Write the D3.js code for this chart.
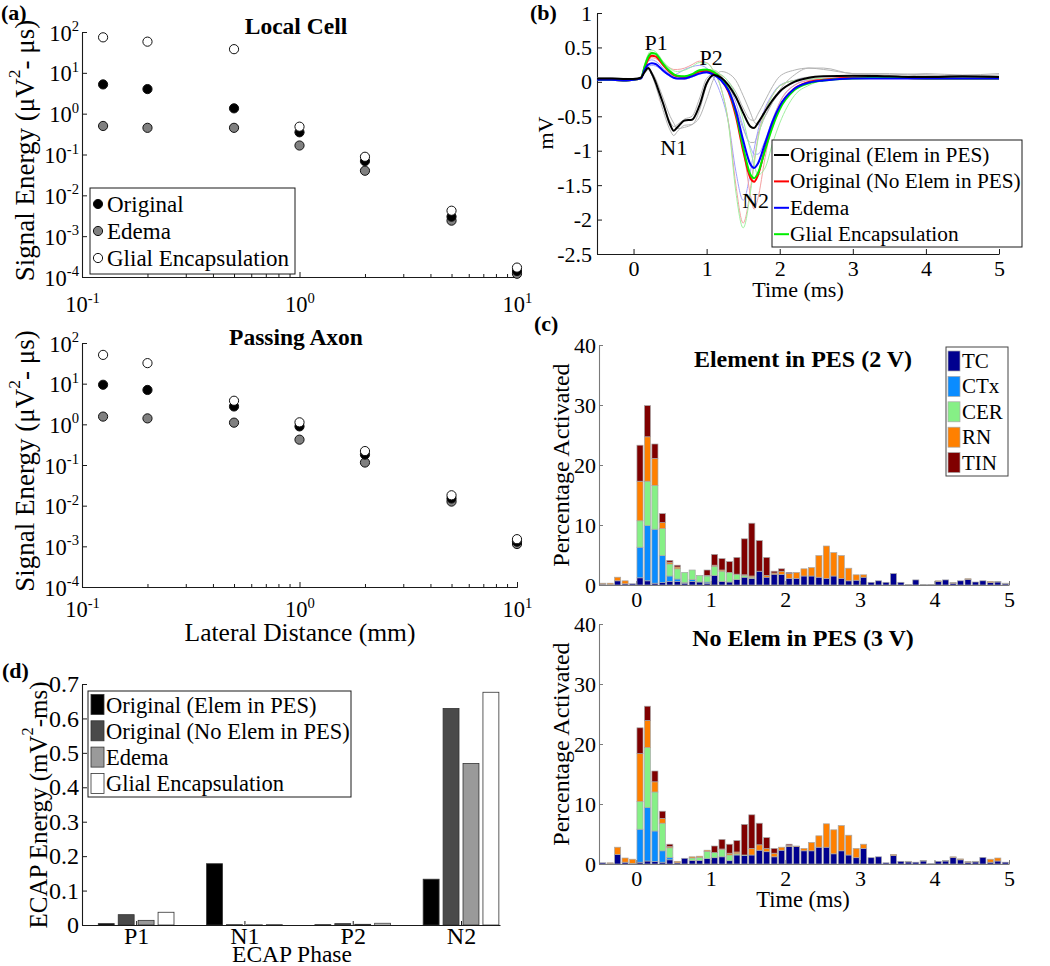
<!DOCTYPE html>
<html><head><meta charset="utf-8">
<script src="https://cdn.jsdelivr.net/npm/d3@7"></script>
<style>body{margin:0;background:#fff}svg{display:block}</style>
</head><body>
<svg id="chart" width="1050" height="966"></svg>
<script>
// ---------------- Panel (a) data ----------------
const distances = [0.125, 0.2, 0.5, 1, 2, 5, 10];
const localOriginal = [5.2, 4.0, 1.35, 0.35, 0.069, 0.003, 0.00014];
const localEdema    = [0.5, 0.45, 0.45, 0.166, 0.04, 0.0024, 0.00012];
const localGlial    = [74, 58, 38, 0.48, 0.088, 0.0042, 0.00017];
const axonOriginal  = [9.4, 7.0, 2.75, 0.89, 0.18, 0.015, 0.0013];
const axonEdema     = [1.55, 1.4, 1.1, 0.42, 0.115, 0.0126, 0.00114];
const axonGlial     = [51, 32, 3.8, 1.12, 0.22, 0.018, 0.0015];
const logTicksY = [1e-4, 1e-3, 1e-2, 1e-1, 1, 10, 100];
const logTicksX = [0.1, 1, 10];
const logMinorX = [0.2,0.3,0.4,0.5,0.6,0.7,0.8,0.9,2,3,4,5,6,7,8,9];
const scatterLegend = ["Original", "Edema", "Glial Encapsulation"];

// ---------------- Panel (b) data ----------------
const ecapTime = [-0.5,-0.3,-0.1,0,0.1,0.15,0.2,0.25,0.3,0.35,0.4,0.5,0.55,0.6,0.7,0.8,0.9,1.0,1.1,1.2,1.3,1.4,1.5,1.6,1.65,1.7,1.8,1.9,2.0,2.2,2.4,2.6,3.0,3.5,4.0,4.5,5.0];
const traceElemPES = [0.05,0.05,0.04,0.04,0.06,0.14,0.2,0.12,0.0,-0.15,-0.3,-0.62,-0.71,-0.66,-0.56,-0.55,-0.35,-0.02,0.1,0.06,-0.05,-0.22,-0.45,-0.65,-0.67,-0.6,-0.43,-0.27,-0.14,0.0,0.06,0.08,0.09,0.08,0.07,0.08,0.07];
const traceNoElem  = [0.03,0.03,0.02,0.03,0.05,0.2,0.33,0.38,0.37,0.32,0.25,0.14,0.1,0.08,0.07,0.1,0.15,0.16,0.12,0.03,-0.15,-0.5,-1.0,-1.4,-1.45,-1.36,-0.97,-0.62,-0.36,-0.1,0.0,0.03,0.06,0.06,0.05,0.05,0.05];
const traceEdema   = [0.03,0.03,0.02,0.03,0.05,0.17,0.25,0.27,0.26,0.22,0.17,0.09,0.06,0.05,0.05,0.08,0.12,0.14,0.1,0.02,-0.13,-0.42,-0.85,-1.2,-1.25,-1.19,-0.89,-0.58,-0.35,-0.1,-0.01,0.02,0.05,0.05,0.05,0.05,0.05];
const traceGlial   = [0.03,0.03,0.02,0.03,0.05,0.22,0.36,0.42,0.41,0.35,0.27,0.15,0.11,0.09,0.08,0.11,0.17,0.18,0.14,0.05,-0.12,-0.45,-0.95,-1.35,-1.4,-1.33,-0.99,-0.66,-0.4,-0.12,-0.02,0.02,0.05,0.06,0.05,0.05,0.05];
const faintGrey1 = [0.06,0.05,0.03,0.05,0.07,0.15,0.21,0.1,-0.05,-0.22,-0.4,-0.7,-0.78,-0.72,-0.63,-0.62,-0.42,-0.05,0.12,0.1,0.0,-0.15,-0.38,-0.55,-0.56,-0.47,-0.27,-0.07,0.08,0.17,0.2,0.18,0.12,0.1,0.12,0.1,0.12];
const faintGrey2 = [0.04,0.05,0.05,0.04,0.06,0.13,0.18,0.1,-0.02,-0.16,-0.3,-0.58,-0.65,-0.62,-0.54,-0.5,-0.25,0.05,0.12,0.05,-0.15,-0.38,-0.68,-0.88,-0.88,-0.76,-0.5,-0.3,-0.16,0.02,0.07,0.08,0.08,0.07,0.1,0.08,0.08];
const faintGrey3 = [0.05,0.06,0.04,0.05,0.06,0.12,0.18,0.14,0.05,-0.08,-0.22,-0.5,-0.6,-0.68,-0.66,-0.62,-0.52,-0.25,0.05,0.15,0.12,0.02,-0.2,-0.45,-0.58,-0.62,-0.5,-0.3,-0.12,0.1,0.2,0.2,0.12,0.12,0.1,0.08,0.1];
const faintRed1 = [0.02,0.03,0.04,0.03,0.06,0.24,0.38,0.43,0.4,0.34,0.27,0.2,0.18,0.18,0.2,0.25,0.3,0.28,0.15,-0.1,-0.6,-1.5,-2.05,-1.55,-1.15,-0.82,-0.42,-0.2,-0.06,0.02,0.04,0.05,0.06,0.05,0.06,0.05,0.05];
const faintRed2 = [0.03,0.02,0.03,0.03,0.05,0.18,0.3,0.35,0.34,0.3,0.24,0.12,0.08,0.05,0.04,0.08,0.14,0.18,0.16,0.08,-0.08,-0.4,-0.95,-1.65,-1.85,-1.7,-1.1,-0.6,-0.3,-0.05,0.02,0.04,0.05,0.06,0.05,0.05,0.05];
const faintBlue1 = [0.03,0.03,0.02,0.03,0.05,0.2,0.3,0.32,0.3,0.26,0.2,0.12,0.1,0.12,0.18,0.22,0.24,0.2,0.05,-0.2,-0.6,-1.3,-1.72,-1.3,-0.98,-0.72,-0.38,-0.18,-0.05,0.02,0.05,0.05,0.05,0.05,0.05,0.05,0.05];
const faintBlue2 = [0.03,0.03,0.03,0.03,0.05,0.15,0.22,0.24,0.23,0.2,0.15,0.08,0.05,0.04,0.04,0.07,0.11,0.13,0.1,0.04,-0.06,-0.3,-0.65,-0.95,-1.05,-1.05,-0.85,-0.55,-0.3,-0.05,0.03,0.05,0.05,0.05,0.05,0.05,0.05];
const faintGreen1 = [0.03,0.03,0.02,0.03,0.06,0.25,0.4,0.46,0.44,0.38,0.3,0.2,0.16,0.15,0.17,0.22,0.28,0.27,0.15,-0.1,-0.62,-1.6,-2.12,-1.6,-1.2,-0.85,-0.44,-0.2,-0.06,0.02,0.04,0.05,0.05,0.05,0.05,0.05,0.05];
const faintGreen2 = [0.02,0.03,0.03,0.03,0.05,0.2,0.34,0.4,0.4,0.36,0.3,0.18,0.12,0.08,0.05,0.07,0.12,0.17,0.17,0.1,0.0,-0.2,-0.55,-1.0,-1.2,-1.35,-1.25,-0.9,-0.6,-0.2,-0.05,0.02,0.05,0.05,0.06,0.05,0.05];
const ecapLegend = ["Original (Elem in PES)", "Original (No Elem in PES)", "Edema", "Glial Encapsulation"];
const peakLabels = ["P1", "P2", "N1", "N2"];
const peakTimes  = [0.31, 1.06, 0.55, 1.67];
const peakValues = [0.57, 0.36, -0.96, -1.72];

// ---------------- Panel (c) data ----------------
const binTimes = [-0.45,-0.35,-0.25,-0.15,-0.05,0.05,0.15,0.25,0.35,0.45,0.55,0.65,0.75,0.85,0.95,1.05,1.15,1.25,1.35,1.45,1.55,1.65,1.75,1.85,1.95,2.05,2.15,2.25,2.35,2.45,2.55,2.65,2.75,2.85,2.95,3.05,3.15,3.25,3.35,3.45,3.55,3.65,3.75,3.85,3.95,4.05,4.15,4.25,4.35,4.45,4.55,4.65,4.75,4.85,4.95];
const cellTypes = ["TC", "CTx", "CER", "RN", "TIN"];
const elemTC  = [0.15,0.1,0.7,0.2,0.2,1.2,0.7,0.3,0.4,0.6, 0.6,0.3,0.6,0.5,0.3,1.6,0.6,0.5,0.9,1.3, 1.1,2.3,1.3,1.8,1.75,1.1,1.1,1.5,1.5,1.3, 1.1,1.5,1.1,0.7,0.8,1.3,0.45,0.7,0.45,1.9, 0.45,0.1,0.85,0.1,0.1,0.6,0.85,0.3,0.7,0.95, 0.5,0.7,0.4,0.5,0.2];
const elemCTx = [0,0,0,0,0,5.1,9.2,9.0,4.5,0.9, 0.4,0.1,0.3,0,0.2,0,0,0,0,0, 0,0,0,0,0,0,0,0,0,0, 0,0,0,0,0,0,0,0,0,0, 0,0,0,0,0,0,0,0,0,0, 0,0,0,0,0];
const elemCER = [0,0,0,0,0,4.4,7.4,7.3,4.5,2.0, 1.7,1.7,1.6,1.1,1.0,1.5,1.7,1.6,0.9,0.3, 0.2,0,0,0,0,0,0,0,0,0, 0,0,0,0,0,0,0,0,0,0, 0,0,0,0,0,0,0,0,0,0, 0,0,0,0,0];
const elemRN  = [0.15,0.2,0.6,0.5,0,6.6,7.4,4.5,1.0,0.3, 0.3,0,0,0,0.1,0.2,0.2,0,0,0.1, 0.2,0,0.3,0.2,0.55,0.8,1.0,1.2,1.4,3.6, 5.4,3.9,3.8,2.1,0.9,0.4,0,0,0,0, 0,0,0,0,0,0.1,0,0.1,0,0.1, 0,0,0.2,0.1,0.1];
const elemTIN = [0,0,0,0,0,6.0,5.2,2.4,1.5,0.3, 0.3,0,0,0,0.9,1.8,1.9,1.8,2.8,6.0, 8.8,5.1,3.0,0.3,0.4,0.2,0,0,0,0, 0,0,0,0,0,0,0,0,0,0, 0,0,0,0,0,0,0,0,0,0, 0,0,0,0,0];
const noElemTC  = [0.2,0.1,1.6,0.3,0.1,0.3,0.5,0.4,0.3,0.7, 0.2,0.95,0.6,0.6,0.9,1.05,1.2,0.55,1.5,1.4, 1.5,2.3,2.05,1.2,2.3,2.9,2.9,2.2,2.2,2.8, 2.8,1.7,2.2,1.5,1.05,2.6,1.05,1.2,0.2,1.4, 0.45,0.35,0.3,0.5,0.05,0.45,0.5,1.1,0.7,0.3, 0.35,1.1,0.3,0.5,0.3];
const noElemCTx = [0,0,0,0,0,5.5,8.9,5.1,1.9,0.4, 0,0,0,0,0,0,0,0,0,0, 0,0,0,0,0,0,0,0,0,0, 0,0,0,0,0,0,0,0,0,0, 0,0,0,0,0,0,0,0,0,0, 0,0,0,0,0];
const noElemCER = [0,0,0,0,0,4.6,10.0,6.5,4.6,1.6, 0,0,0.4,0.5,1.2,0.85,1.2,0.95,0.2,0.1, 0,0,0,0,0,0,0,0,0,0, 0,0,0,0,0,0,0,0,0,0, 0,0,0,0,0,0,0,0,0,0, 0,0,0,0,0];
const noElemRN  = [0,0.1,1.2,0.7,0.7,8.0,4.5,1.7,0.8,0.2, 0.25,0,0.2,0.2,0.2,0,0.1,0.3,0.3,0, 1.1,0.9,0.55,0.6,0.5,0.2,0.1,0.4,1.4,1.9, 3.9,4.0,4.2,3.3,1.55,0.7,0,0,0,0.2, 0,0.1,0,0.1,0,0,0.1,0.1,0.15,0.1, 0.1,0,0.5,0.5,0];
const noElemTIN = [0,0,0,0,0,4.3,2.4,1.8,1.2,0.4, 0,0,0,0,0,1.1,1.6,1.5,1.9,5.1, 5.6,3.6,1.8,0.8,0,0.2,0,0,0,0, 0,0,0,0,0,0,0,0,0,0, 0,0,0,0,0,0,0,0,0,0, 0,0,0,0,0];
const histTicksX = [0, 1, 2, 3, 4, 5];
const histTicksY = [0, 10, 20, 30, 40];

// ---------------- Panel (d) data ----------------
const phases = ["P1", "N1", "P2", "N2"];
const energyElemPES = [0.004, 0.178, 0.001, 0.133];
const energyNoElem  = [0.030, 0.001, 0.004, 0.629];
const energyEdema   = [0.0135, 0.0005, 0.002, 0.469];
const energyGlial   = [0.037, 0.001, 0.005, 0.676];
const energyTicks = [0, 0.1, 0.2, 0.3, 0.4, 0.5, 0.6, 0.7];

// ================= drawing =================
const svg = d3.select('#chart');
const SERIF = "'Liberation Serif','Times New Roman',serif";
const INK = '#1a1a1a';

function txt(g, x, y, s, o = {}) {
  const t = g.append('text').attr('x', x).attr('y', y)
    .attr('font-family', SERIF).attr('font-size', o.size || 22)
    .attr('fill', '#000').attr('text-anchor', o.anchor || 'start');
  if (o.weight) t.attr('font-weight', o.weight);
  if (o.baseline) t.attr('dominant-baseline', o.baseline);
  if (o.rotate != null) t.attr('transform', `rotate(${o.rotate},${x},${y})`);
  if (s != null) t.text(s);
  return t;
}
function supParts(t, parts, size) {
  t.append('tspan').text(parts[0]);
  t.append('tspan').attr('font-size', size * 0.65).attr('dy', -size * 0.42).text(parts[1]);
  if (parts[2]) t.append('tspan').attr('dy', size * 0.42).text(parts[2]);
}
function styleAxis(sel, color) {
  sel.select('.domain').attr('stroke', color).attr('stroke-width', 1.1);
  sel.selectAll('.tick line').attr('stroke', color).attr('stroke-width', 1);
  sel.attr('font-family', SERIF);
}

// ---------- Panel (a) ----------
function logPanel(cfg) {
  const g = svg.append('g');
  const x = d3.scaleLog().domain([0.1, 10]).range([82, 517]);
  const y = d3.scaleLog().domain([1e-4, 1e2]).range([cfg.bottom, cfg.top]);
  const ya = g.append('g').attr('transform', 'translate(82,0)')
    .call(d3.axisLeft(y).tickValues(logTicksY).tickSizeInner(-5).tickSizeOuter(0).tickFormat(() => ''));
  styleAxis(ya, INK);
  ya.selectAll('.tick').each(function (d) {
    const t = txt(d3.select(this), -3, 8, null, { anchor: 'end', size: 22.5 });
    supParts(t, ['10', String(Math.round(Math.log10(d)))], 22.5);
  });
  const xm = g.append('g').attr('transform', `translate(0,${cfg.bottom})`)
    .call(d3.axisBottom(x).tickValues(logMinorX).tickSizeInner(-3).tickSizeOuter(0).tickFormat(() => ''));
  styleAxis(xm, INK);
  const xa = g.append('g').attr('transform', `translate(0,${cfg.bottom})`)
    .call(d3.axisBottom(x).tickValues(logTicksX).tickSizeInner(-5).tickSizeOuter(0).tickFormat(() => ''));
  styleAxis(xa, INK);
  xa.selectAll('.tick').each(function (d) {
    const t = txt(d3.select(this), 0, cfg.xLabelDy, null, { anchor: 'middle', size: 22.5 });
    supParts(t, ['10', String(Math.round(Math.log10(d)))], 22.5);
  });
  txt(g, 296, cfg.top + 2, cfg.title, { anchor: 'middle', size: 23.5, weight: 'bold' });
  const yl = txt(g, 25, (cfg.top + cfg.bottom) / 2 - 4, null, { anchor: 'middle', size: 27, rotate: -90, baseline: 'central' });
  supParts(yl, ['Signal Energy (\u03bcV', '2', '- \u03bcs)'], 27);

  const series = [
    { vals: cfg.edema, fill: '#808080' },
    { vals: cfg.original, fill: '#000' },
    { vals: cfg.glial, fill: '#fff' }
  ];
  series.forEach(s => {
    g.append('g').selectAll('circle').data(distances).join('circle')
      .attr('cx', d => x(d)).attr('cy', (d, i) => y(s.vals[i])).attr('r', 4.6)
      .attr('fill', s.fill).attr('stroke', '#111').attr('stroke-width', 1);
  });
  if (cfg.legend) {
    const lg = g.append('g');
    lg.append('rect').attr('x', 90).attr('y', 188).attr('width', 205).attr('height', 86)
      .attr('fill', '#fff').attr('stroke', INK).attr('stroke-width', 1);
    const fills = ['#000', '#808080', '#fff'];
    scatterLegend.forEach((name, i) => {
      const cy = 204 + i * 27;
      lg.append('circle').attr('cx', 98).attr('cy', cy).attr('r', 4.6).attr('fill', fills[i]).attr('stroke', '#111');
      txt(lg, 107, cy + 8, name, { size: 23 });
    });
  }
  if (cfg.xTitle) txt(g, 300, 641, cfg.xTitle, { anchor: 'middle', size: 25.5 });
}
logPanel({ top: 32, bottom: 277, title: 'Local Cell', original: localOriginal, edema: localEdema, glial: localGlial, legend: true, xLabelDy: 35 });
logPanel({ top: 343, bottom: 587, title: 'Passing Axon', original: axonOriginal, edema: axonEdema, glial: axonGlial, legend: false, xLabelDy: 30, xTitle: 'Lateral Distance (mm)' });
txt(svg, 1, 20, '(a)', { size: 22, weight: 'bold' });

// ---------- Panel (b) ----------
(function () {
  const g = svg.append('g');
  const x = d3.scaleLinear().domain([-0.5, 5]).range([597, 999]);
  const y = d3.scaleLinear().domain([-2.5, 1]).range([254, 13]);
  const ya = g.append('g').attr('transform', 'translate(597,0)')
    .call(d3.axisLeft(y).tickValues([1, 0.5, 0, -0.5, -1, -1.5, -2, -2.5]).tickSizeInner(-5).tickSizeOuter(0).tickPadding(5).tickFormat(d => String(d)));
  styleAxis(ya, INK);
  ya.selectAll('.tick text').attr('font-size', 22).attr('fill', '#000');
  const xa = g.append('g').attr('transform', 'translate(0,254)')
    .call(d3.axisBottom(x).tickValues([0, 1, 2, 3, 4, 5]).tickSizeInner(-5).tickSizeOuter(0).tickPadding(6).tickFormat(d => String(d)));
  styleAxis(xa, INK);
  xa.selectAll('.tick text').attr('font-size', 22).attr('fill', '#000');

  const line = d3.line().x((d, i) => x(ecapTime[i])).y(d => y(d)).curve(d3.curveMonotoneX);
  const faint = [
    [faintGrey1, '#b4b4b4'], [faintGrey2, '#b4b4b4'], [faintGrey3, '#b4b4b4'],
    [faintBlue1, '#a0a0ff'], [faintBlue2, '#a0a0ff'],
    [faintRed1, '#f4a0a0'], [faintRed2, '#f4a0a0'],
    [faintGreen1, '#a0f0a0'], [faintGreen2, '#a0f0a0']
  ];
  faint.forEach(([d, c]) => g.append('path').attr('d', line(d)).attr('fill', 'none').attr('stroke', c).attr('stroke-width', 1));
  const main = [[traceNoElem, '#ff0000'], [traceGlial, '#00ee00'], [traceEdema, '#0000ff'], [traceElemPES, '#000']];
  main.forEach(([d, c]) => g.append('path').attr('d', line(d)).attr('fill', 'none').attr('stroke', c).attr('stroke-width', 2));

  peakLabels.forEach((lab, i) => txt(g, x(peakTimes[i]), y(peakValues[i]), lab, { anchor: 'middle', baseline: 'central', size: 22 }));

  const lg = g.append('g');
  lg.append('rect').attr('x', 772).attr('y', 140).attr('width', 250).attr('height', 107)
    .attr('fill', '#fff').attr('stroke', INK).attr('stroke-width', 1);
  const cols = ['#000', '#ff0000', '#0000ff', '#00ee00'];
  ecapLegend.forEach((name, i) => {
    const cy = 155 + i * 26.4;
    lg.append('line').attr('x1', 774).attr('x2', 789).attr('y1', cy).attr('y2', cy).attr('stroke', cols[i]).attr('stroke-width', 2);
    txt(lg, 790, cy + 7, name, { size: 21.3 });
  });
  txt(g, 545, 133, 'mV', { anchor: 'middle', baseline: 'central', size: 22, rotate: -90 });
  txt(g, 798, 297, 'Time (ms)', { anchor: 'middle', size: 22 });
  txt(g, 530, 20, '(b)', { size: 22, weight: 'bold' });
})();

// ---------- Panel (c) ----------
const cellColors = ['#00008f', '#0a8cff', '#86f086', '#ff8000', '#800000'];
function histPanel(cfg) {
  const g = svg.append('g');
  const x = d3.scaleLinear().domain([-0.5, 5]).range([599, 1009]);
  const y = d3.scaleLinear().domain([0, 40]).range([cfg.bottom, cfg.top]);
  const rows = binTimes.map((t, i) => {
    const r = { t };
    cellTypes.forEach((k, j) => r[k] = cfg.series[j][i]);
    return r;
  });
  const stacked = d3.stack().keys(cellTypes)(rows);
  const bw = 0.082;
  stacked.forEach((layer, j) => {
    g.append('g').selectAll('rect').data(layer).join('rect')
      .attr('x', d => x(d.data.t - bw / 2)).attr('width', x(bw) - x(0))
      .attr('y', d => y(d[1])).attr('height', d => Math.max(0, y(d[0]) - y(d[1])))
      .attr('fill', cellColors[j]).attr('stroke', '#a8a8a8').attr('stroke-width', 0.7);
  });
  const ya = g.append('g').attr('transform', 'translate(599,0)')
    .call(d3.axisLeft(y).tickValues(histTicksY).tickSizeInner(-4).tickSizeOuter(0).tickPadding(3).tickFormat(d => String(d)));
  styleAxis(ya, '#7a7a7a');
  ya.selectAll('.tick text').attr('font-size', 22).attr('fill', '#000');
  const xa = g.append('g').attr('transform', `translate(0,${cfg.bottom})`)
    .call(d3.axisBottom(x).tickValues(histTicksX).tickSizeInner(-4).tickSizeOuter(0).tickPadding(6).tickFormat(d => String(d)));
  styleAxis(xa, '#7a7a7a');
  xa.selectAll('.tick text').attr('font-size', 22).attr('fill', '#000');
  txt(g, 803, cfg.titleY, cfg.title, { anchor: 'middle', size: 24, weight: 'bold' });
  txt(g, 561, (cfg.top + cfg.bottom) / 2, 'Percentage Activated', { anchor: 'middle', baseline: 'central', size: 24, rotate: -90 });
  if (cfg.legend) {
    const lg = g.append('g');
    lg.append('rect').attr('x', 946).attr('y', 347).attr('width', 62).attr('height', 129)
      .attr('fill', '#fff').attr('stroke', '#444').attr('stroke-width', 1);
    cellTypes.forEach((k, j) => {
      const cy = 361 + j * 25.4;
      lg.append('rect').attr('x', 948).attr('y', cy - 10).attr('width', 12).attr('height', 20)
        .attr('fill', cellColors[j]).attr('stroke', '#a8a8a8').attr('stroke-width', 0.7);
      txt(lg, 962, cy + 7, k, { size: 21 });
    });
  }
  if (cfg.xTitle) txt(g, 803, 907, cfg.xTitle, { anchor: 'middle', size: 22.5 });
}
histPanel({ top: 345, bottom: 585, title: 'Element in PES (2 V)', titleY: 367, legend: true,
  series: [elemTC, elemCTx, elemCER, elemRN, elemTIN] });
histPanel({ top: 624, bottom: 864, title: 'No Elem in PES (3 V)', titleY: 646, legend: false, xTitle: 'Time (ms)',
  series: [noElemTC, noElemCTx, noElemCER, noElemRN, noElemTIN] });
txt(svg, 534, 331, '(c)', { size: 22, weight: 'bold' });

// ---------- Panel (d) ----------
(function () {
  const g = svg.append('g');
  const x = d3.scaleLinear().domain([0.5, 4.36]).range([82, 500]);
  const y = d3.scaleLinear().domain([0, 0.7]).range([925, 684]);
  const groups = [energyElemPES, energyNoElem, energyEdema, energyGlial];
  const fills = ['#000', '#4a4a4a', '#9a9a9a', '#fff'];
  const step = 0.184, w = 0.147;
  groups.forEach((vals, j) => {
    g.append('g').selectAll('rect').data(phases).join('rect')
      .attr('x', (d, i) => x(i + 1 + (j - 1.5) * step - w / 2))
      .attr('width', x(w) - x(0))
      .attr('y', (d, i) => y(vals[i]))
      .attr('height', (d, i) => y(0) - y(vals[i]))
      .attr('fill', fills[j]).attr('stroke', '#333').attr('stroke-width', 0.8);
  });
  const ya = g.append('g').attr('transform', 'translate(82,0)')
    .call(d3.axisLeft(y).tickValues(energyTicks).tickSizeInner(-5).tickSizeOuter(0).tickPadding(3).tickFormat(d => String(d)));
  styleAxis(ya, INK);
  ya.selectAll('.tick text').attr('font-size', 24).attr('fill', '#000');
  const xa = g.append('g').attr('transform', 'translate(0,925)')
    .call(d3.axisBottom(x).tickValues([1, 2, 3, 4]).tickSizeInner(-4).tickSizeOuter(0).tickPadding(2).tickFormat((d, i) => phases[i]));
  styleAxis(xa, INK);
  xa.selectAll('.tick text').attr('font-size', 24).attr('fill', '#000');
  const lg = g.append('g');
  lg.append('rect').attr('x', 88).attr('y', 691).attr('width', 263).attr('height', 106)
    .attr('fill', '#fff').attr('stroke', INK).attr('stroke-width', 1);
  ecapLegend.forEach((name, j) => {
    const cy = 704.5 + j * 26.3;
    lg.append('rect').attr('x', 91).attr('y', cy - 10).attr('width', 13).attr('height', 20)
      .attr('fill', fills[j]).attr('stroke', '#333').attr('stroke-width', 0.8);
    txt(lg, 106, cy + 8, name, { size: 22.5 });
  });
  const yl = txt(g, 38, 805, null, { anchor: 'middle', baseline: 'central', size: 25, rotate: -90 });
  supParts(yl, ['ECAP Energy (mV', '2', '-ms)'], 25);
  txt(g, 292, 962, 'ECAP Phase', { anchor: 'middle', size: 23.5 });
  txt(g, 2, 678, '(d)', { size: 22, weight: 'bold' });
})();
</script>
</body></html>
